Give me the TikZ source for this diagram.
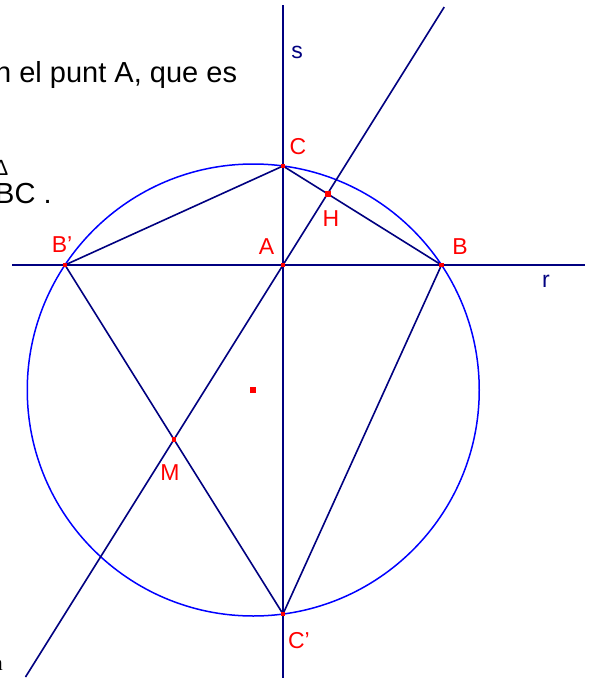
\documentclass[tikz,border=0pt]{standalone}
\usepackage{fontspec}
\setmainfont{Liberation Sans}
\newfontfamily\seriffont{Liberation Serif}
\definecolor{navy}{RGB}{0,0,128}
\definecolor{ptred}{RGB}{255,0,0}
\begin{document}
\begin{tikzpicture}[x=1pt,y=-1pt,
  geoline/.style={navy, line width=1.6pt},
  circ/.style={blue, line width=1.5pt},
  pt/.style={rectangle, fill=ptred, inner sep=0pt, minimum size=4.5pt},
  bigpt/.style={rectangle, fill=ptred, inner sep=0pt, minimum size=6pt},
  lbl/.style={text=ptred, font=\fontsize{23}{26}\selectfont, inner sep=0pt},
  linelbl/.style={text=navy, font=\fontsize{23}{26}\selectfont, inner sep=0pt},
  bodytext/.style={text=black, font=\fontsize{29}{34}\selectfont, inner sep=0pt}]
\useasboundingbox (0,0) rectangle (593,678);
\clip (0,0) rectangle (593,678);
\fill[white] (0,0) rectangle (593,678);

% key coordinates
\coordinate (Apos) at (283,265);
\coordinate (Bpos) at (441.5,265);
\coordinate (Cpos) at (283,166);
\coordinate (Bppos) at (65,265);
\coordinate (Cppos) at (283,614);
\coordinate (Opos) at (253.25,390);
\coordinate (Hpos) at (327.5,193.8);
\coordinate (Mpos) at (174,439.5);
\coordinate (sT) at (283,5);
\coordinate (sB) at (283,680);
\coordinate (rL) at (12,265);
\coordinate (rR) at (585,265);
\coordinate (hT) at (444.25,7);
\coordinate (hB) at (25.5,677);

% text fragments
\node[bodytext, anchor=base west] (t1) at (-5,82) {n el punt A, que es};
\node[text=black, font=\fontsize{22}{24}\selectfont, inner sep=0pt, anchor=base] (tdelta) at (1,175) {Δ};
\node[bodytext, anchor=base west] (t2) at (-5,203) {BC .};
\node[text=black, font=\seriffont\fontsize{22}{24}\selectfont, inner sep=0pt, anchor=base east] (t3) at (3,670) {n};

% circle
\draw[circ] (Opos) circle (226);

% lines
\draw[geoline] (sT) -- (sB);
\draw[geoline] (rL) -- (rR);
\draw[geoline] (hB) -- (hT);

% segments
\draw[geoline] (Bppos) -- (Cpos) -- (Bpos) -- (Cppos) -- (Bppos);

% points
\node[pt] (A) at (Apos) {};
\node[pt] (B) at (Bpos) {};
\node[pt] (C) at (Cpos) {};
\node[pt] (Bp) at (Bppos) {};
\node[pt] (Cp) at (Cppos) {};
\node[bigpt] (O) at (Opos) {};
\node[bigpt] (H) at (Hpos) {};
\node[pt] (M) at (Mpos) {};

% labels
\node[lbl] (lC) at (298,147) {C};
\node[lbl] (lH) at (331,219) {H};
\node[lbl] (lA) at (266.5,247) {A};
\node[lbl] (lB) at (460,247) {B};
\node[lbl] (lBp) at (62,245) {B'};
\node[lbl] (lM) at (170,473) {M};
\node[lbl] (lCp) at (299,641) {C'};
\node[linelbl] (ls) at (297,52) {s};
\node[linelbl] (lr) at (546,281) {r};
\end{tikzpicture}
\end{document}
